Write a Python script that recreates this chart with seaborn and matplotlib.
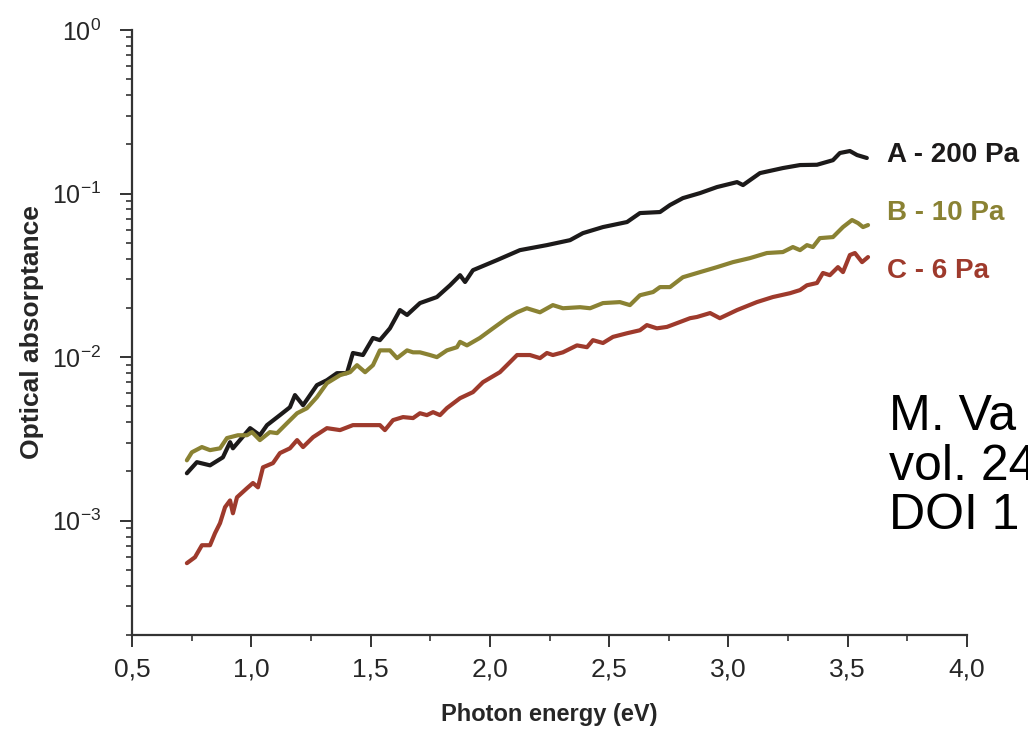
import pandas as pd
import matplotlib
matplotlib.use("Agg")
import matplotlib.pyplot as plt
import seaborn as sns
from matplotlib.ticker import MultipleLocator, LogLocator

# ---------------------------------------------------------------------------
# DATA
# ---------------------------------------------------------------------------
A_E = [0.730, 0.772, 0.827, 0.881, 0.911, 0.923, 0.995, 1.036, 1.066, 1.120,
       1.162, 1.183, 1.217, 1.275, 1.317, 1.359, 1.401, 1.426, 1.468, 1.510,
       1.539, 1.581, 1.623, 1.653, 1.707, 1.778, 1.833, 1.875, 1.896, 1.929,
       2.030, 2.126, 2.239, 2.336, 2.390, 2.474, 2.575, 2.629, 2.713, 2.755,
       2.809, 2.881, 2.952, 3.036, 3.061, 3.132, 3.228, 3.300, 3.371, 3.438,
       3.467, 3.509, 3.539, 3.580]
A_val = [1.95e-3, 2.28e-3, 2.18e-3, 2.44e-3, 3.02e-3, 2.77e-3, 3.68e-3, 3.33e-3, 3.84e-3, 4.42e-3,
         4.94e-3, 5.86e-3, 5.08e-3, 6.74e-3, 7.23e-3, 7.98e-3, 7.98e-3, 1.06e-2, 1.03e-2, 1.31e-2,
         1.27e-2, 1.50e-2, 1.94e-2, 1.81e-2, 2.14e-2, 2.33e-2, 2.75e-2, 3.17e-2, 2.88e-2, 3.40e-2,
         3.92e-2, 4.51e-2, 4.84e-2, 5.19e-2, 5.73e-2, 6.24e-2, 6.70e-2, 7.60e-2, 7.71e-2, 8.51e-2,
         9.38e-2, 0.1007, 0.1096, 0.1175, 0.1127, 0.1334, 0.1432, 0.1494, 0.1500, 0.160,
         0.177, 0.182, 0.172, 0.165]

B_E = [0.730, 0.751, 0.793, 0.827, 0.869, 0.898, 0.944, 0.982, 1.003, 1.036,
       1.078, 1.108, 1.150, 1.192, 1.233, 1.275, 1.317, 1.372, 1.414, 1.443,
       1.477, 1.510, 1.539, 1.581, 1.611, 1.653, 1.678, 1.707, 1.749, 1.778,
       1.820, 1.862, 1.875, 1.904, 1.958, 2.013, 2.072, 2.114, 2.155, 2.210,
       2.264, 2.306, 2.378, 2.420, 2.474, 2.545, 2.587, 2.629, 2.684, 2.713,
       2.755, 2.809, 2.881, 2.952, 3.019, 3.090, 3.161, 3.228, 3.270, 3.300,
       3.329, 3.354, 3.383, 3.438, 3.480, 3.518, 3.543, 3.564, 3.585]
B_val = [2.34e-3, 2.62e-3, 2.82e-3, 2.70e-3, 2.77e-3, 3.20e-3, 3.33e-3, 3.33e-3, 3.48e-3, 3.11e-3,
         3.48e-3, 3.43e-3, 3.95e-3, 4.54e-3, 4.87e-3, 5.69e-3, 6.93e-3, 7.76e-3, 8.09e-3, 8.93e-3,
         8.09e-3, 8.93e-3, 1.10e-2, 1.10e-2, 9.86e-3, 1.10e-2, 1.07e-2, 1.07e-2, 1.03e-2, 1.00e-2,
         1.10e-2, 1.15e-2, 1.24e-2, 1.18e-2, 1.31e-2, 1.50e-2, 1.73e-2, 1.88e-2, 1.99e-2, 1.88e-2,
         2.08e-2, 1.99e-2, 2.02e-2, 1.99e-2, 2.14e-2, 2.17e-2, 2.08e-2, 2.39e-2, 2.50e-2, 2.68e-2,
         2.68e-2, 3.08e-2, 3.31e-2, 3.55e-2, 3.81e-2, 4.03e-2, 4.33e-2, 4.39e-2, 4.71e-2, 4.51e-2,
         4.84e-2, 4.71e-2, 5.34e-2, 5.42e-2, 6.24e-2, 6.89e-2, 6.60e-2, 6.24e-2, 6.42e-2]

C_E = [0.730, 0.764, 0.793, 0.827, 0.848, 0.869, 0.890, 0.911, 0.923, 0.940,
       0.982, 1.007, 1.028, 1.049, 1.091, 1.120, 1.162, 1.192, 1.217, 1.259,
       1.317, 1.372, 1.426, 1.485, 1.539, 1.560, 1.594, 1.636, 1.678, 1.707,
       1.736, 1.762, 1.791, 1.820, 1.875, 1.929, 1.971, 2.042, 2.084, 2.114,
       2.168, 2.210, 2.239, 2.264, 2.306, 2.365, 2.407, 2.432, 2.474, 2.516,
       2.575, 2.629, 2.658, 2.700, 2.742, 2.797, 2.839, 2.868, 2.923, 2.964,
       3.036, 3.119, 3.186, 3.258, 3.300, 3.329, 3.371, 3.396, 3.425, 3.459,
       3.480, 3.509, 3.530, 3.560, 3.585]
C_val = [5.50e-4, 5.98e-4, 7.08e-4, 7.08e-4, 8.39e-4, 9.66e-4, 1.21e-3, 1.33e-3, 1.11e-3, 1.39e-3,
         1.58e-3, 1.70e-3, 1.60e-3, 2.12e-3, 2.25e-3, 2.59e-3, 2.77e-3, 3.11e-3, 2.82e-3, 3.24e-3,
         3.68e-3, 3.58e-3, 3.84e-3, 3.84e-3, 3.84e-3, 3.58e-3, 4.12e-3, 4.30e-3, 4.24e-3, 4.54e-3,
         4.42e-3, 4.61e-3, 4.42e-3, 4.88e-3, 5.61e-3, 6.11e-3, 7.03e-3, 8.09e-3, 9.31e-3, 1.03e-2,
         1.03e-2, 9.86e-3, 1.06e-2, 1.03e-2, 1.07e-2, 1.18e-2, 1.15e-2, 1.27e-2, 1.22e-2, 1.33e-2,
         1.40e-2, 1.46e-2, 1.57e-2, 1.50e-2, 1.53e-2, 1.64e-2, 1.73e-2, 1.76e-2, 1.86e-2, 1.73e-2,
         1.94e-2, 2.17e-2, 2.33e-2, 2.46e-2, 2.57e-2, 2.75e-2, 2.84e-2, 3.27e-2, 3.17e-2, 3.55e-2,
         3.31e-2, 4.21e-2, 4.33e-2, 3.81e-2, 4.09e-2]

SERIES = ["A - 200 Pa", "B - 10 Pa", "C - 6 Pa"]
COLORS = ["#1c1a1a", "#8a8233", "#9e3a2c"]

df = pd.concat([
    pd.DataFrame({"E": A_E, "abs": A_val, "sample": SERIES[0]}),
    pd.DataFrame({"E": B_E, "abs": B_val, "sample": SERIES[1]}),
    pd.DataFrame({"E": C_E, "abs": C_val, "sample": SERIES[2]}),
])

# ---------------------------------------------------------------------------
# PLOT
# ---------------------------------------------------------------------------
sns.set_style("ticks")
plt.rcParams["font.family"] = ["Liberation Sans", "DejaVu Sans"]
plt.rcParams["mathtext.default"] = "regular"

fig = plt.figure(figsize=(10.28, 7.3), dpi=100)
ax = fig.add_axes([0.1284, 0.1301, 0.8123, 0.8288])

sns.lineplot(data=df, x="E", y="abs", hue="sample", palette=COLORS,
             hue_order=SERIES, linewidth=3, sort=False, legend=False, ax=ax)

ax.set_yscale("log")
ax.set_ylim(2e-4, 1)
ax.set_xlim(0.5, 4.0)
ax.xaxis.set_major_locator(MultipleLocator(0.5))
ax.xaxis.set_minor_locator(MultipleLocator(0.25))
ax.yaxis.set_major_locator(LogLocator(base=10))
ax.yaxis.set_minor_locator(LogLocator(base=10, subs=range(2, 10)))
ax.xaxis.set_major_formatter(plt.FuncFormatter(lambda v, p: f"{v:.1f}".replace(".", ",")))

sns.despine(ax=ax)
for s in ["left", "bottom"]:
    ax.spines[s].set_linewidth(1.6)
    ax.spines[s].set_color("#333333")
ax.tick_params(which="major", length=8.5, width=1.4, color="#333333")
ax.tick_params(which="minor", length=4.5, width=1.2, color="#333333")
ax.tick_params(axis="x", which="major", labelsize=19, pad=8)
ax.tick_params(axis="y", which="major", labelsize=18, pad=14)

ax.set_xlabel("Photon energy (eV)", fontsize=17, fontweight="bold", labelpad=15)
ax.set_ylabel("Optical absorptance", fontsize=19, fontweight="bold")
ax.yaxis.set_label_coords(-0.105, 0.5)

# series labels at the right end of the curves
lab_y = [0.778, 0.699, 0.619]
for name, c, y in zip(SERIES, COLORS, lab_y):
    fig.text(0.8628, y, name, color=c, fontsize=20, fontweight="bold", va="baseline")

# citation fragment, cut by the right edge
cite = ["M. Va", "vol. 24", "DOI 1"]
for line, y in zip(cite, [0.411, 0.343, 0.275]):
    fig.text(0.865, y, line, fontsize=36, color="black", va="baseline")

fig.savefig("out.png", dpi=100)
plt.close(fig)
